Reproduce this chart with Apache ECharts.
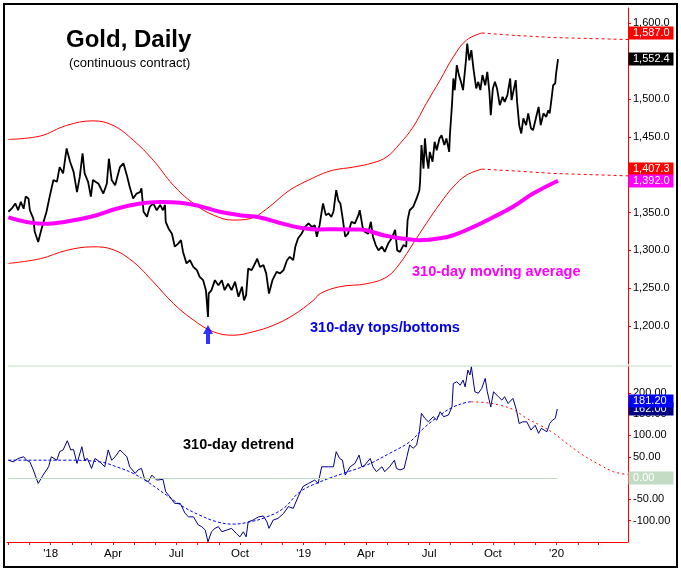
<!DOCTYPE html>
<html><head><meta charset="utf-8">
<script src="https://cdn.jsdelivr.net/npm/echarts@6/dist/echarts.min.js"></script>
<style>html,body{margin:0;padding:0;background:#fff}#c{width:681px;height:571px}</style>
</head><body><div id="c"></div>
<script>
// ---------- axis range / tick labels ----------
const axisStart = '2017-10-30';
const axisEnd = '2020-04-13';
const lastTickMonth = '2020-03';
const monthAbbr = ['Jan','Feb','Mar','Apr','May','Jun','Jul','Aug','Sep','Oct','Nov','Dec'];
const labelMonths = ['01','04','07','10'];
const priceTicks = [1200,1250,1300,1350,1400,1450,1500,1550,1600];
const detrendTicks = [-100,-50,0,50,100,150,200];
const detrendTickLabels = [-100,-50,50,100,150,200];

// ---------- top panel ----------
const priceData = [
['2017-11-01',1351],['2017-11-06',1355.4],['2017-11-11',1362],['2017-11-15',1353],['2017-11-19',1364],['2017-11-23',1355],['2017-11-26',1371],['2017-11-30',1368.6],['2017-12-02',1353],['2017-12-07',1342],['2017-12-09',1324.5],['2017-12-14',1311],['2017-12-17',1322],['2017-12-21',1335.6],['2017-12-26',1351],['2017-12-31',1373],
['2018-01-05',1393],['2018-01-10',1390.5],['2018-01-14',1410],['2018-01-19',1401.6],['2018-01-24',1434.6],['2018-01-29',1417],['2018-02-03',1404],['2018-02-08',1377],['2018-02-12',1397],['2018-02-16',1428],['2018-02-19',1401.6],['2018-02-24',1390.5],['2018-02-28',1371],
['2018-03-03',1393],['2018-03-11',1388],['2018-03-18',1375],['2018-03-23',1388],['2018-03-26',1421],['2018-03-30',1393],['2018-04-04',1386],['2018-04-11',1410],['2018-04-16',1415],['2018-04-21',1399],['2018-04-25',1384],['2018-04-30',1368.6],
['2018-05-05',1375],['2018-05-10',1377],['2018-05-12',1382],['2018-05-15',1351],['2018-05-20',1344.3],['2018-05-24',1357.5],['2018-05-29',1362],['2018-06-03',1353],['2018-06-08',1360],['2018-06-12',1353],['2018-06-15',1360],['2018-06-16',1337.7],['2018-06-20',1329],['2018-06-25',1322],['2018-06-29',1305],
['2018-07-04',1309],['2018-07-08',1313.5],['2018-07-11',1298],['2018-07-16',1282.8],['2018-07-21',1287],['2018-07-26',1278],['2018-07-31',1274],['2018-08-04',1265],['2018-08-09',1260.7],['2018-08-13',1247.5],['2018-08-16',1212],['2018-08-17',1243],['2018-08-21',1247.5],['2018-08-26',1260.7],['2018-08-31',1254],
['2018-09-05',1260.7],['2018-09-09',1247.5],['2018-09-14',1256],['2018-09-19',1247.5],['2018-09-24',1258.5],['2018-09-29',1238.7],['2018-10-04',1252],['2018-10-07',1234],['2018-10-10',1241],['2018-10-13',1276],['2018-10-18',1274],['2018-10-23',1283],['2018-10-26',1289],['2018-10-30',1278],
['2018-11-04',1280.5],['2018-11-08',1269.6],['2018-11-12',1243],['2018-11-17',1260.7],['2018-11-23',1271.7],['2018-11-28',1269.6],['2018-12-03',1274],['2018-12-08',1287],['2018-12-12',1291.5],['2018-12-17',1287],['2018-12-20',1305],['2018-12-24',1316],['2018-12-29',1322],
['2019-01-03',1331],['2019-01-08',1335.6],['2019-01-13',1331],['2019-01-17',1333.3],['2019-01-20',1318],['2019-01-24',1333.3],['2019-01-27',1351],['2019-01-29',1362],['2019-02-02',1346.5],['2019-02-06',1348.8],['2019-02-10',1344.3],['2019-02-13',1351],['2019-02-17',1379.5],['2019-02-20',1366],['2019-02-23',1362],['2019-02-26',1344.3],
['2019-03-02',1318],['2019-03-06',1322],['2019-03-11',1337.7],['2019-03-16',1335.6],['2019-03-21',1346.5],['2019-03-23',1353],['2019-03-27',1331],['2019-03-30',1324.5],['2019-04-04',1322],['2019-04-08',1337.7],['2019-04-11',1318],['2019-04-15',1307],['2019-04-19',1300],['2019-04-24',1305],['2019-04-28',1298],
['2019-05-03',1309],['2019-05-08',1316],['2019-05-13',1327],['2019-05-16',1300],['2019-05-20',1298],['2019-05-25',1307],['2019-05-29',1305],['2019-05-31',1340],['2019-06-03',1353],['2019-06-08',1357.5],['2019-06-13',1368.6],['2019-06-17',1379.5],['2019-06-18',1390.5],['2019-06-20',1439],['2019-06-23',1408],['2019-06-25',1447.8],['2019-06-27',1425.7],['2019-06-30',1408],
['2019-07-02',1430],['2019-07-06',1417],['2019-07-09',1443.3],['2019-07-12',1432.3],['2019-07-16',1447.8],['2019-07-19',1452],['2019-07-23',1439],['2019-07-26',1447.8],['2019-07-30',1430],['2019-07-31',1452],
['2019-08-03',1491.7],['2019-08-05',1527],['2019-08-07',1511.6],['2019-08-10',1544.6],['2019-08-13',1531.4],['2019-08-16',1522.5],['2019-08-19',1511.6],['2019-08-23',1549],['2019-08-25',1573],['2019-08-28',1551],['2019-08-31',1564.4],
['2019-09-03',1540],['2019-09-07',1513.8],['2019-09-10',1522.5],['2019-09-13',1511.6],['2019-09-16',1531.4],['2019-09-20',1518],['2019-09-23',1535.7],['2019-09-26',1509.3],['2019-09-28',1478.6],
['2019-10-01',1513.8],['2019-10-04',1522.5],['2019-10-07',1513.8],['2019-10-11',1491.7],['2019-10-15',1502.7],['2019-10-18',1496],['2019-10-22',1505],['2019-10-26',1527],['2019-10-28',1498.3],['2019-10-31',1511.6],
['2019-11-03',1524.8],['2019-11-05',1496],['2019-11-08',1465.3],['2019-11-11',1454.4],['2019-11-14',1474.2],['2019-11-18',1465.3],['2019-11-21',1480.8],['2019-11-25',1461],['2019-11-28',1458.7],
['2019-12-02',1474.2],['2019-12-06',1489.5],['2019-12-09',1465.3],['2019-12-13',1480.8],['2019-12-17',1476.3],['2019-12-20',1485],['2019-12-22',1480.8],['2019-12-25',1502.7],['2019-12-27',1518],['2019-12-30',1520.4],['2019-12-31',1531.4],
['2020-01-03',1552.4]
];
const maData = [
['2017-11-01',1343.5],['2017-12-21',1335],['2018-01-24',1338],['2018-03-03',1345],['2018-04-06',1355],['2018-05-10',1362],['2018-06-08',1364],['2018-07-07',1363],['2018-08-04',1358.4],['2018-09-02',1351],['2018-10-01',1346.5],['2018-10-30',1343.5],['2018-12-03',1335],['2018-12-27',1330],['2019-01-25',1327.6],['2019-02-13',1328],['2019-03-23',1327.6],['2019-04-26',1320],['2019-05-20',1316],['2019-06-18',1313.5],['2019-07-17',1316],['2019-08-05',1320],['2019-09-03',1331],['2019-10-02',1344],['2019-10-30',1357.5],['2019-11-28',1375],['2020-01-03',1392]
];
const upperBand = [
['2017-11-01',1446.5],['2017-12-17',1451],['2018-01-24',1465],['2018-03-03',1471],['2018-04-01',1465],['2018-04-30',1445.6],['2018-05-29',1419],['2018-06-27',1386],['2018-07-26',1362],['2018-08-24',1346.5],['2018-09-21',1340],['2018-10-16',1342],['2018-11-09',1355],['2018-12-08',1377],['2018-12-27',1387.5],['2019-01-10',1393.6],['2019-01-25',1400],['2019-02-13',1406],['2019-03-14',1410],['2019-04-11',1415.6],['2019-05-01',1423.5],['2019-05-20',1441],['2019-06-08',1463],['2019-06-27',1494],['2019-07-17',1525],['2019-08-05',1555.5],['2019-08-24',1577.6],['2019-09-15',1587]
];
const upperProjection = [['2019-09-15',1587],['2019-10-30',1584],['2019-12-27',1581],['2020-04-13',1578.4]];
const lowerBand = [
['2017-11-01',1282.8],['2017-12-17',1289],['2018-01-24',1300],['2018-03-03',1304.7],['2018-04-01',1301],['2018-04-30',1285],['2018-05-29',1258.5],['2018-06-27',1230],['2018-07-26',1208],['2018-08-24',1192.5],['2018-09-21',1188],['2018-10-20',1192.5],['2018-11-18',1201],['2018-12-17',1214.5],['2019-01-15',1234],['2019-01-25',1243],['2019-02-22',1252],['2019-04-02',1256],['2019-05-01',1265],['2019-05-20',1283],['2019-06-08',1309],['2019-06-27',1335.6],['2019-07-17',1362],['2019-08-05',1384],['2019-08-24',1399.3],['2019-09-15',1407.3]
];
const lowerProjection = [['2019-09-15',1407.3],['2019-10-30',1405],['2019-12-27',1401.6],['2020-04-13',1398.4]];
const arrowPoint = [['2018-08-16',1189]];

// ---------- bottom panel ----------
const detrendData = [
['2017-11-01',42],['2017-11-08',38],['2017-11-15',46],['2017-11-23',50],['2017-11-27',42],['2017-12-02',38],['2017-12-07',19],['2017-12-14',-12.5],['2017-12-21',7],['2017-12-29',26.5],
['2018-01-02',50],['2018-01-10',42],['2018-01-14',62],['2018-01-19',66],['2018-01-25',87.6],['2018-01-30',66],['2018-02-03',67],['2018-02-08',34.4],['2018-02-15',73.5],['2018-02-19',42],['2018-02-23',46],
['2018-03-01',22.7],['2018-03-06',46],['2018-03-13',38],['2018-03-20',26.5],['2018-03-25',66],['2018-03-30',42],['2018-04-04',50],['2018-04-11',66],['2018-04-16',58],['2018-04-21',50],['2018-04-25',26.5],
['2018-05-03',11],['2018-05-07',19],['2018-05-12',22.7],['2018-05-17',-4.7],['2018-05-22',-8.6],['2018-05-27',7],['2018-06-03',-4.7],['2018-06-12',-3],['2018-06-16',-32],['2018-06-22',-44],['2018-06-29',-59.5],
['2018-07-07',-59.5],['2018-07-14',-83],['2018-07-19',-91],['2018-07-26',-91],['2018-08-02',-110],['2018-08-07',-114],['2018-08-12',-122],['2018-08-16',-149.5],['2018-08-21',-126],['2018-08-26',-118],['2018-08-31',-114],
['2018-09-05',-126],['2018-09-12',-122],['2018-09-19',-118],['2018-09-26',-130],['2018-10-01',-138],['2018-10-06',-126],['2018-10-10',-138],['2018-10-13',-102.6],['2018-10-20',-98.6],['2018-10-28',-91],
['2018-11-04',-89],['2018-11-09',-102.6],['2018-11-12',-118],['2018-11-18',-98.6],['2018-11-25',-94.6],['2018-12-03',-83],['2018-12-10',-67],['2018-12-17',-71],['2018-12-24',-44],['2018-12-31',-20],
['2019-01-08',-12.5],['2019-01-17',-4.7],['2019-01-22',-12.5],['2019-01-27',26.5],['2019-02-06',26.5],['2019-02-13',26.5],['2019-02-17',62],['2019-02-22',46],['2019-02-26',42],
['2019-03-02',7],['2019-03-09',26.5],['2019-03-16',34.5],['2019-03-22',54],['2019-03-26',26.5],['2019-03-30',30],['2019-04-07',46],['2019-04-11',26.5],['2019-04-16',15],['2019-04-24',26.5],['2019-04-28',15],
['2019-05-05',26.5],['2019-05-12',42],['2019-05-15',22.7],['2019-05-20',19],['2019-05-26',22.7],['2019-05-30',50],['2019-06-03',77.5],['2019-06-08',70],['2019-06-13',77.5],['2019-06-17',108.7],['2019-06-20',152],['2019-06-25',140],['2019-06-30',132],
['2019-07-07',144],['2019-07-12',136],['2019-07-17',155.6],['2019-07-22',144],['2019-07-29',148],['2019-08-03',167],['2019-08-05',222],['2019-08-10',226],['2019-08-15',218],['2019-08-19',230],['2019-08-22',214],['2019-08-26',253.5],['2019-08-29',242],['2019-08-31',261],
['2019-09-05',202.6],['2019-09-10',199],['2019-09-15',210.6],['2019-09-20',234],['2019-09-23',202.6],['2019-09-28',167],['2019-10-02',202.6],['2019-10-09',191],['2019-10-14',183],['2019-10-18',191],['2019-10-23',175],['2019-10-30',187],
['2019-11-04',160],['2019-11-08',128],['2019-11-13',132],['2019-11-19',132],['2019-11-25',112.7],['2019-12-01',124],['2019-12-06',105],['2019-12-10',116.7],['2019-12-18',108.7],['2019-12-22',128],['2019-12-26',136],['2019-12-30',140],['2020-01-02',162]
];
const detrendSmooth = [
['2017-11-01',42],['2017-12-07',42],['2018-01-24',42],['2018-03-13',38],['2018-04-06',26.5],['2018-04-30',11],['2018-05-24',-12.5],['2018-06-17',-40],['2018-07-11',-67],['2018-08-04',-87],['2018-08-29',-102.6],['2018-09-21',-108],['2018-10-16',-102.6],['2018-11-09',-91],['2018-12-03',-71],['2018-12-27',-32],['2019-01-25',-8.6],['2019-02-27',11],['2019-04-02',30.5],['2019-05-05',58],['2019-06-03',85],['2019-06-23',116.7],['2019-07-17',148],['2019-08-05',167],['2019-08-24',177.7],['2019-08-31',179]
];
const detrendProjection = [
['2019-08-31',179],['2019-09-22',176.8],['2019-10-11',171],['2019-10-30',161],['2019-11-19',140],['2019-12-08',124],['2019-12-27',106],['2020-01-16',81],['2020-02-08',54],['2020-03-04',30.5],['2020-03-23',15],['2020-04-13',8]
];
const zeroLineRange = ['2017-10-31','2020-01-02'];
const detrendReadout = 181.20;

// ---------- build ----------
function buildDays(a, b) {
  const out = []; let t = Date.parse(a + 'T00:00:00Z'); const e = Date.parse(b + 'T00:00:00Z');
  while (t <= e) { out.push(new Date(t).toISOString().slice(0, 10)); t += 86400000; }
  return out;
}
const days = buildDays(axisStart, axisEnd);
const FONT = 'Arial, "Liberation Sans", sans-serif';
const RED = '#ff0000';
const GRID_L = 7, GRID_R = 53, W = 681;
const axisX = W - GRID_R;

const isMonthStart = v => v.slice(8) === '01' && v.slice(0, 7) <= lastTickMonth;
const isLabelDay = v => isMonthStart(v) && labelMonths.indexOf(v.slice(5, 7)) >= 0;
const fmtX = v => { const m = +v.slice(5, 7); return m === 1 ? "'" + v.slice(2, 4) : monthAbbr[m - 1]; };
const fmtTop = v => Number(v).toLocaleString('en-US', {minimumFractionDigits: 1, maximumFractionDigits: 1});
const fmtBot = v => Number(v).toFixed(2);

const chart = echarts.init(document.getElementById('c'));
const line = (name, data, xi, color, width, extra) => Object.assign({
  type: 'line', name, data, xAxisIndex: xi, yAxisIndex: xi, showSymbol: false, symbol: 'none',
  lineStyle: {color, width}, silent: true, animation: false
}, extra || {});

chart.setOption({
  animation: false,
  backgroundColor: '#ffffff',
  grid: [
    {left: GRID_L, right: GRID_R, top: 8, height: 356, containLabel: false, outerBoundsMode: 'none'},
    {left: GRID_L, right: GRID_R, top: 366, height: 176, containLabel: false, outerBoundsMode: 'none'}
  ],
  xAxis: [
    {type: 'category', data: days, boundaryGap: false, gridIndex: 0, show: false},
    {type: 'category', data: days, boundaryGap: false, gridIndex: 1, position: 'bottom',
      axisLine: {show: true, onZero: false, lineStyle: {color: RED, width: 1}},
      axisTick: {show: true, length: 3, lineStyle: {color: RED}, interval: (i, v) => isMonthStart(v)},
      axisLabel: {interval: (i, v) => isLabelDay(v), formatter: fmtX, color: '#000', fontSize: 11.5, fontFamily: FONT, margin: 6},
      splitLine: {show: false}}
  ],
  yAxis: [
    {type: 'value', gridIndex: 0, position: 'right', min: 1150, max: 1620, interval: 50,
      axisLine: {show: true, lineStyle: {color: RED}},
      axisTick: {show: true, length: 3, lineStyle: {color: RED}, customValues: priceTicks},
      axisLabel: {customValues: priceTicks, color: '#000', fontSize: 11, fontFamily: FONT, margin: 5,
        formatter: v => (priceTicks.indexOf(Math.round(v)) >= 0 && Math.abs(v - Math.round(v)) < 1e-6) ? fmtTop(v) : ''},
      splitLine: {show: false}},
    {type: 'value', gridIndex: 1, position: 'right', min: -150, max: 263, interval: 50,
      axisLine: {show: true, lineStyle: {color: RED}},
      axisTick: {show: true, length: 3, lineStyle: {color: RED}, customValues: detrendTicks},
      axisLabel: {customValues: detrendTickLabels, color: '#000', fontSize: 11, fontFamily: FONT, margin: 5,
        formatter: v => (detrendTickLabels.indexOf(Math.round(v)) >= 0 && Math.abs(v - Math.round(v)) < 1e-6) ? fmtBot(v) : ''},
      splitLine: {show: false}}
  ],
  series: [
    line('upper', upperBand, 0, RED, 1, {smooth: 0.4}),
    line('upperProj', upperProjection, 0, RED, 1, {lineStyle: {color: RED, width: 1, type: [3, 3]}}),
    line('lower', lowerBand, 0, RED, 1, {smooth: 0.4}),
    line('lowerProj', lowerProjection, 0, RED, 1, {lineStyle: {color: RED, width: 1, type: [3, 3]}}),
    line('price', priceData, 0, '#000000', 1.8),
    line('ma', maData, 0, '#ff00ff', 4, {smooth: 0.4}),
    {type: 'scatter', data: arrowPoint, xAxisIndex: 0, yAxisIndex: 0, silent: true,
      symbol: 'path://M5,0 L10,9 L7,9 L7,19 L3,19 L3,9 L0,9 Z', symbolSize: [10, 19],
      itemStyle: {color: '#0000ff'}, z: 5},
    line('detrend', detrendData, 1, '#000080', 1, {
      markLine: {silent: true, symbol: 'none', label: {show: false}, animation: false,
        lineStyle: {color: '#c0dcc0', width: 1, type: 'solid'},
        data: [[{coord: [zeroLineRange[0], 0]}, {coord: [zeroLineRange[1], 0]}]]}
    }),
    line('detrendSmooth', detrendSmooth, 1, '#0000ff', 1, {smooth: 0.4, lineStyle: {color: '#0000ff', width: 1, type: [3, 2]}}),
    line('detrendProj', detrendProjection, 1, RED, 1, {smooth: 0.4, lineStyle: {color: RED, width: 1, type: [2, 3]}})
  ]
});

// value boxes at the right axis, positioned through the axis scales
const yPix = (ax, v) => chart.convertToPixel({yAxisIndex: ax}, v);
const boxes = [
  {ax: 0, v: upperBand[upperBand.length - 1][1], t: fmtTop(upperBand[upperBand.length - 1][1]), bg: '#ff0000'},
  {ax: 0, v: priceData[priceData.length - 1][1], t: fmtTop(priceData[priceData.length - 1][1]), bg: '#000000'},
  {ax: 0, v: lowerBand[lowerBand.length - 1][1], t: fmtTop(lowerBand[lowerBand.length - 1][1]), bg: '#ff0000'},
  {ax: 0, v: maData[maData.length - 1][1], t: fmtTop(maData[maData.length - 1][1]), bg: '#ff00ff'},
  {ax: 1, v: detrendData[detrendData.length - 1][1], t: fmtBot(detrendData[detrendData.length - 1][1]), bg: '#000080'},
  {ax: 1, v: detrendReadout, t: fmtBot(detrendReadout), bg: '#0000ff'},
  {ax: 1, v: 0, t: fmtBot(0), bg: '#c4dcc4'}
];
const g = [];
g.push({type: 'line', shape: {x1: 8, y1: 366, x2: 672, y2: 366}, style: {stroke: '#c0dcc0', lineWidth: 1}, z: 1, silent: true});
boxes.forEach((b, i) => {
  const y = Math.round(yPix(b.ax, b.v));
  g.push({type: 'rect', shape: {x: axisX + 0.5, y: y - 6.5, width: 45, height: 13}, style: {fill: b.bg}, z: 200 + i * 2, silent: true});
  g.push({type: 'text', x: axisX + 5, y: y, style: {text: b.t, fill: '#ffffff', font: '11px ' + FONT, verticalAlign: 'middle', align: 'left'}, z: 201 + i * 2, silent: true});
});
const txt = (s, x, y, font, fill) => ({type: 'text', x, y, style: {text: s, font: font + ' ' + FONT, fill, verticalAlign: 'middle', align: 'left'}, z: 150, silent: true});
g.push(txt('Gold, Daily', 66, 40, 'bold 24px', '#000000'));
g.push(txt('(continuous contract)', 69, 63, '13px', '#000000'));
g.push(txt('310-day moving average', 412, 272, 'bold 14.5px', '#ff00ff'));
g.push(txt('310-day tops/bottoms', 310, 328, 'bold 14.5px', '#0000ee'));
g.push(txt('310-day detrend', 183, 445, 'bold 14.5px', '#000000'));
g.push({type: 'rect', shape: {x: 4, y: 4, width: 673, height: 563}, style: {fill: 'transparent', stroke: '#000000', lineWidth: 2}, z: 300, silent: true});
chart.setOption({graphic: g});
</script>
</body></html>
